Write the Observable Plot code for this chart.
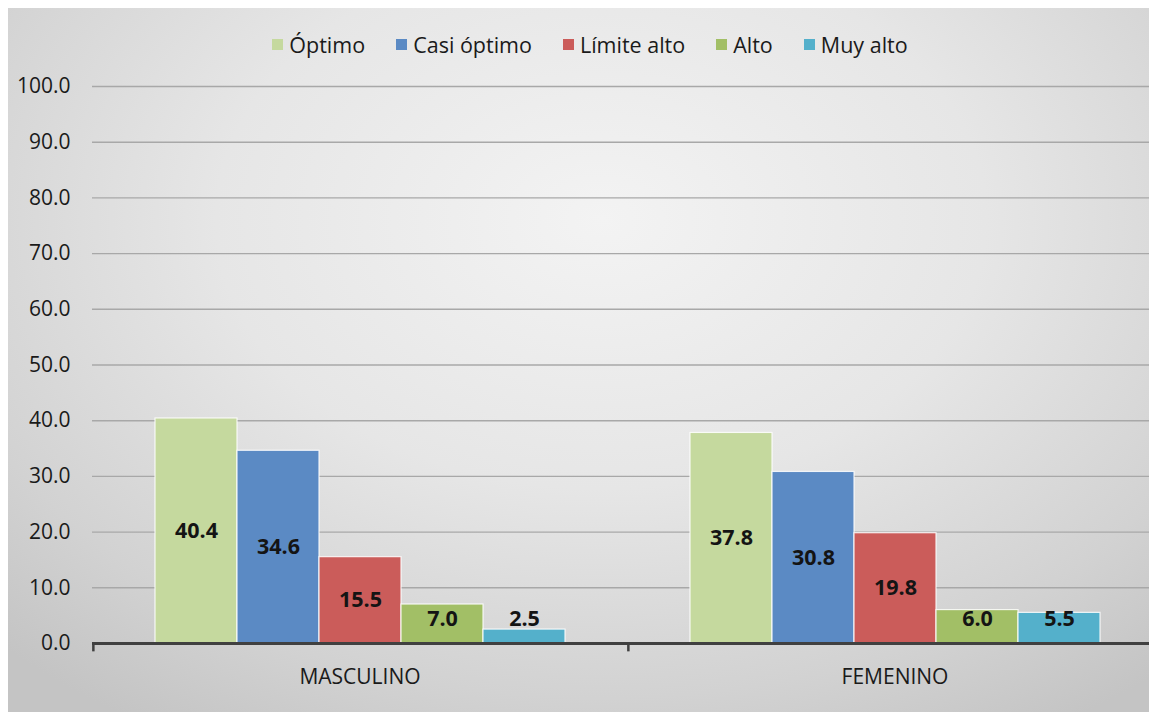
<!DOCTYPE html>
<html>
<head>
<meta charset="utf-8">
<script src="https://cdn.jsdelivr.net/npm/d3@7"></script>
<script src="https://cdn.jsdelivr.net/npm/@observablehq/plot@0.6"></script>
<style>
  html, body { margin: 0; padding: 0; background: #ffffff; width: 1149px; height: 712px; overflow: hidden; }
  #frame {
    position: absolute; left: 8px; top: 8px; width: 1141px; height: 704px; overflow: hidden;
    background: radial-gradient(ellipse 75% 85% at 52% 30%, #f3f3f3 0%, #e6e6e6 45%, #d2d2d2 80%, #c4c4c4 100%);
    font-family: "Open Sans", sans-serif;
  }
  #legend {
    height: 62px; box-sizing: border-box; padding-top: 10px; padding-left: 23px;
    display: flex; align-items: center; justify-content: center; gap: 31px;
    font-size: 21.5px; color: #1a1a1a;
  }
  .item { display: flex; align-items: center; gap: 6px; }
  .sw { width: 11px; height: 11px; display: inline-block; }
  #chart svg { display: block; }
</style>
</head>
<body>
<div id="frame">
  <div id="legend"></div>
  <div id="chart"></div>
</div>
<script>
const sexes = ["MASCULINO", "FEMENINO"];
const series = ["Óptimo", "Casi óptimo", "Límite alto", "Alto", "Muy alto"];
const masculino = [40.4, 34.6, 15.5, 7.0, 2.5];
const femenino = [37.8, 30.8, 19.8, 6.0, 5.5];
const colors = ["#c5d99e", "#5b8ac4", "#cb5c5a", "#a2bf66", "#54b0cb"];
const yTicks = [0, 10, 20, 30, 40, 50, 60, 70, 80, 90, 100];

const values = [masculino, femenino];
const data = sexes.flatMap((s, i) => series.map((k, j) => ({sex: s, serie: k, value: values[i][j]})));

// legend
const legend = document.getElementById("legend");
series.forEach((s, i) => {
  const it = document.createElement("div");
  it.className = "item";
  const sw = document.createElement("span");
  sw.className = "sw";
  sw.style.background = colors[i];
  const t = document.createElement("span");
  t.textContent = s;
  it.appendChild(sw); it.appendChild(t);
  legend.appendChild(it);
});

const W = 1141, H = 642;
const fxRange = [84, 1154];
const po = 0.755;
const facetW = (fxRange[1] - fxRange[0]) / sexes.length;
const step = facetW / (series.length + 2 * po);
const edgeDx = -(po * step + step / 2);

const chart = Plot.plot({
  width: W, height: H,
  marginLeft: 84, marginRight: 0, marginTop: 16, marginBottom: 69,
  style: {background: "transparent", fontFamily: "Open Sans, sans-serif", fontSize: "21px", color: "#1a1a1a", overflow: "hidden"},
  facet: {data: data, x: "sex"},
  fx: {domain: sexes, range: fxRange, padding: 0, label: null, tickSize: 0, tickPadding: 26},
  x: {domain: series, paddingInner: 0, paddingOuter: po, axis: null},
  y: {domain: [0, 100], ticks: yTicks, tickFormat: d => d.toFixed(1), tickSize: 0, tickPadding: 22, label: null},
  color: {domain: series, range: colors},
  marks: [
    Plot.ruleY(yTicks, {stroke: "#a8a8a8", strokeWidth: 1.4}),
    Plot.barY(data, {x: "serie", y: "value", fill: "serie", stroke: "#ffffff", strokeWidth: 1.2, strokeOpacity: 0.85}),
    Plot.ruleY([0], {stroke: "#404040", strokeWidth: 3}),
    Plot.ruleX([series[0]], {x: d => d, y1: 0, y2: -1.5, dx: edgeDx, stroke: "#404040", strokeWidth: 2.5}),
    Plot.text(data, {x: "serie", y: d => Math.max(d.value / 2, 4.3), text: d => d.value.toFixed(1),
      fontWeight: "bold", fontSize: 21.5, fill: "#141414"})
  ]
});
document.getElementById("chart").appendChild(chart);
</script>
</body>
</html>
